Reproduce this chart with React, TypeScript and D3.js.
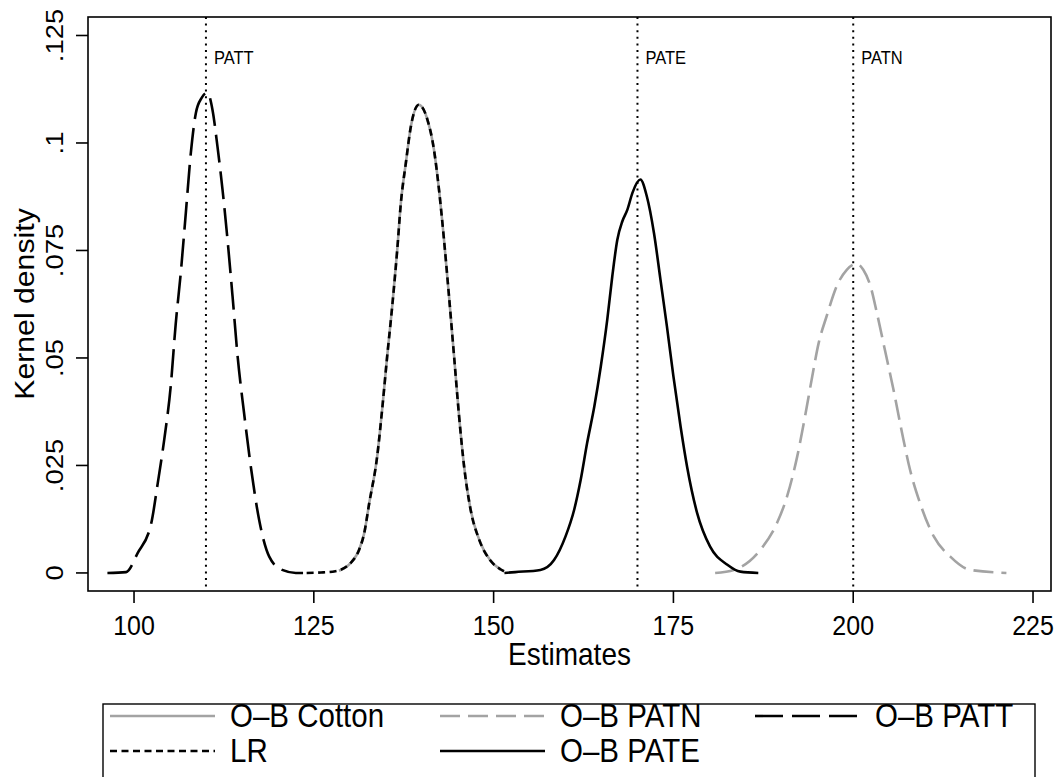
import React from "react";
import * as d3 from "d3";

// kernel density estimates: [estimate, density]
const pattData: [number, number][] = [
  [96.3, 0], [98.9, 0.0002], [100.5, 0.0046], [102.4, 0.0116], [103.3, 0.0209],
  [104.2, 0.031], [105.1, 0.0434], [105.8, 0.058], [106.5, 0.0698], [107.2, 0.0837],
  [107.9, 0.0977], [108.6, 0.107], [109.4, 0.1105], [110.2, 0.1117], [110.9, 0.1078],
  [111.6, 0.0992], [112.3, 0.0892], [113.0, 0.0775], [113.7, 0.0643], [114.4, 0.0504],
  [115.3, 0.0372], [116.3, 0.024], [117.4, 0.0123], [118.8, 0.0038], [120.6, 0.0007],
  [122.5, 0], [123.5, 0],
];

const lrData: [number, number][] = [
  [124, 0], [126, 0.0001], [128, 0.0004], [130.1, 0.0023], [131.3, 0.0054],
  [132, 0.0092], [132.7, 0.0162], [133.8, 0.027], [134.5, 0.038], [135.2, 0.0504],
  [135.9, 0.062], [136.6, 0.0752], [137.1, 0.086], [137.8, 0.0954], [138.5, 0.1039],
  [139.6, 0.1089], [140.8, 0.1054], [141.7, 0.0985], [142.4, 0.0892], [143.1, 0.0775],
  [143.8, 0.0643], [144.5, 0.0504], [145.2, 0.0364], [145.9, 0.0247], [146.8, 0.0147],
  [148, 0.0077], [149.5, 0.003], [151, 0.0008], [152, 0],
];

// O-B Cotton lies right under LR
const cottonData: [number, number][] = [
  [128.5, 0.0005], [130.1, 0.0023], [131.3, 0.0054], [132, 0.0092], [132.7, 0.0162],
  [133.8, 0.027], [134.5, 0.038], [135.2, 0.0504], [135.9, 0.062], [136.6, 0.0752],
  [137.1, 0.086], [137.8, 0.0954], [138.5, 0.1039], [139.6, 0.1089], [140.8, 0.1054],
  [141.7, 0.0985], [142.4, 0.0892], [143.1, 0.0775], [143.8, 0.0643], [144.5, 0.0504],
  [145.2, 0.0364], [145.9, 0.0247], [146.8, 0.0147], [148, 0.0077], [149.5, 0.003],
  [151, 0.0008],
];

const pateData: [number, number][] = [
  [151.5, 0], [153, 0.0002], [156.5, 0.0007], [158.4, 0.003], [160, 0.0085],
  [161.2, 0.0147], [162.1, 0.0216], [163, 0.0302], [164, 0.0387], [164.9, 0.048],
  [165.8, 0.0589], [166.5, 0.069], [167.2, 0.0775], [167.9, 0.0818], [168.6, 0.0845],
  [169.3, 0.0884], [170.4, 0.0915], [171.3, 0.0876], [172.3, 0.079], [173.2, 0.0682],
  [174.1, 0.0573], [175, 0.0457], [176, 0.034], [176.9, 0.0247], [178.3, 0.0139],
  [180.1, 0.0061], [182.5, 0.0019], [184.3, 0.0003], [186.8, 0],
];

const patnData: [number, number][] = [
  [180.8, 0], [183.4, 0.0007], [187.1, 0.0054], [189.4, 0.0116], [190.8, 0.0178],
  [192.2, 0.027], [193.3, 0.0364], [194.3, 0.0457], [195.2, 0.0535], [196.3, 0.0597],
  [197.7, 0.0667], [199.1, 0.0705], [200.5, 0.0719], [201.4, 0.0705], [202.4, 0.0667],
  [203.3, 0.0604], [204.4, 0.0519], [205.6, 0.0426], [206.8, 0.0325], [207.9, 0.024],
  [209.3, 0.0162], [211.2, 0.0085], [213.5, 0.0038], [216.3, 0.0007], [221.3, 0],
];

const xTicks = [100, 125, 150, 175, 200, 225];
const yTicks = [0, 0.025, 0.05, 0.075, 0.1, 0.125];
const yTickLabels = ["0", ".025", ".05", ".075", ".1", ".125"];

const refLines = [110, 170, 200];
const refLabels = ["PATT", "PATE", "PATN"];

const GRAY = "#a3a3a3";
const FONT = "'Liberation Sans', Arial, sans-serif";
const STRETCH = 1.12; // text in the reference is a bit taller than wide

export default function App() {
  const left = 88, right = 1051, top = 17, bottom = 591;

  const x = d3.scaleLinear().domain([93.6, 227.5]).range([left, right]);
  const y = d3.scaleLinear().domain([-0.0042, 0.1293]).range([bottom, top]);

  const line = d3
    .line<[number, number]>()
    .x((d) => x(d[0]))
    .y((d) => y(d[1]))
    .curve(d3.curveMonotoneX);

  // series drawn in this order (cotton first so LR dashes sit on top)
  const series = [
    { name: "O–B Cotton", data: cottonData, color: GRAY, dash: "" },
    { name: "O–B PATN", data: patnData, color: GRAY, dash: "20,8" },
    { name: "O–B PATT", data: pattData, color: "#000", dash: "28,9" },
    { name: "LR", data: lrData, color: "#000", dash: "7,4.5" },
    { name: "O–B PATE", data: pateData, color: "#000", dash: "" },
  ];

  // legend layout: order as in the reference
  const legendOrder = ["O–B Cotton", "O–B PATN", "O–B PATT", "LR", "O–B PATE"];
  const legendCols = [110, 440, 755];
  const legendRows = [716, 751];

  return (
    <div style={{ position: "absolute", left: 0, top: 0 }}>
      <svg width={1063} height={777} style={{ display: "block", background: "#fff" }} fontFamily={FONT}>
        <rect x={0} y={0} width={1063} height={777} fill="#fff" />

        {/* reference lines */}
        {refLines.map((v, i) => (
          <g key={v}>
            <line
              x1={x(v)} x2={x(v)} y1={top} y2={bottom}
              stroke="#000" strokeWidth={2} strokeDasharray="2,4.6"
            />
            <text transform={`translate(${x(v) + 8},64) scale(1,${STRETCH})`} fontSize={16.5}>
              {refLabels[i]}
            </text>
          </g>
        ))}

        {/* density curves */}
        {series.map((s) => (
          <path
            key={s.name}
            d={line(s.data) || ""}
            fill="none"
            stroke={s.color}
            strokeWidth={2.6}
            strokeDasharray={s.dash || undefined}
            strokeLinejoin="round"
          />
        ))}

        {/* frame */}
        <rect x={left} y={top} width={right - left} height={bottom - top} fill="none" stroke="#000" strokeWidth={1.6} />

        {/* x axis */}
        {xTicks.map((t) => (
          <g key={t}>
            <line x1={x(t)} x2={x(t)} y1={bottom} y2={bottom + 12} stroke="#000" strokeWidth={1.6} />
            <text
              transform={`translate(${x(t)},635) scale(1,${STRETCH})`}
              fontSize={25}
              textAnchor="middle"
            >
              {t}
            </text>
          </g>
        ))}
        <text transform={`translate(${(left + right) / 2},665) scale(1,${STRETCH})`} fontSize={28} textAnchor="middle">
          Estimates
        </text>

        {/* y axis */}
        {yTicks.map((t, i) => (
          <g key={t}>
            <line x1={left - 12} x2={left} y1={y(t)} y2={y(t)} stroke="#000" strokeWidth={1.6} />
            <text
              transform={`translate(63,${y(t)}) rotate(-90) scale(${STRETCH},1)`}
              fontSize={24.5}
              textAnchor="middle"
            >
              {yTickLabels[i]}
            </text>
          </g>
        ))}
        <text
          transform={`translate(34,${(top + bottom) / 2}) rotate(-90) scale(${STRETCH},1)`}
          fontSize={27}
          textAnchor="middle"
        >
          Kernel density
        </text>

        {/* legend */}
        <rect x={103} y={704} width={932} height={90} fill="#fff" stroke="#000" strokeWidth={1.4} />
        {legendOrder.map((name, i) => {
          const s = series.find((d) => d.name === name)!;
          const cx = legendCols[i % 3];
          const cy = legendRows[Math.floor(i / 3)];
          return (
            <g key={name}>
              <line
                x1={cx} x2={cx + 105} y1={cy} y2={cy}
                stroke={s.color} strokeWidth={2.6}
                strokeDasharray={s.dash || undefined}
              />
              <text transform={`translate(${cx + 120},${cy + 11}) scale(1,${STRETCH})`} fontSize={29.5}>
                {name}
              </text>
            </g>
          );
        })}
      </svg>
    </div>
  );
}
